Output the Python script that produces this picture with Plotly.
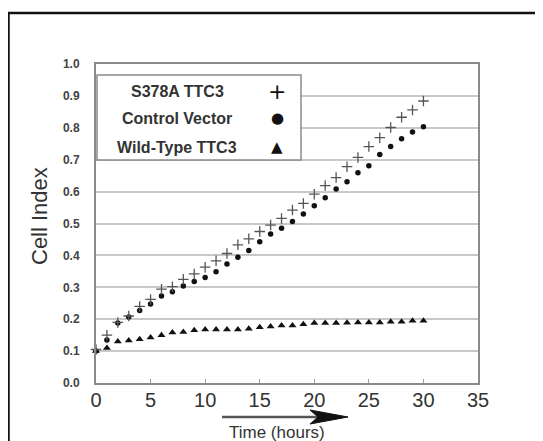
import plotly.graph_objects as go

hours = list(range(31))
s378a = [0.105, 0.15, 0.19, 0.21, 0.24, 0.262, 0.294, 0.302, 0.325, 0.342, 0.363,
         0.383, 0.406, 0.433, 0.452, 0.475, 0.495, 0.516, 0.542, 0.563, 0.592,
         0.619, 0.644, 0.678, 0.707, 0.741, 0.769, 0.801, 0.833, 0.856, 0.884]
control = [0.10, 0.135, 0.188, 0.207, 0.227, 0.248, 0.273, 0.286, 0.304, 0.318, 0.331,
           0.349, 0.373, 0.394, 0.415, 0.443, 0.467, 0.485, 0.506, 0.530, 0.556,
           0.581, 0.608, 0.631, 0.659, 0.681, 0.716, 0.741, 0.766, 0.787, 0.803]
wildtype = [0.10, 0.11, 0.13, 0.133, 0.137, 0.143, 0.15, 0.158, 0.16, 0.165, 0.168,
            0.168, 0.168, 0.168, 0.17, 0.175, 0.177, 0.18, 0.18, 0.184, 0.188,
            0.188, 0.188, 0.189, 0.19, 0.19, 0.19, 0.192, 0.192, 0.195, 0.195]
series_names = ["S378A TTC3", "Control Vector", "Wild-Type TTC3"]
legend_glyphs = ["+", "●", "▲"]
x_ticks = [0, 5, 10, 15, 20, 25, 30, 35]
y_ticks = [0.0, 0.1, 0.2, 0.3, 0.4, 0.5, 0.6, 0.7, 0.8, 0.9, 1.0]

OFF = 8  # page body margin
W, H = 535, 433
L, T = 88, 56
R, B = W - 470, H - 375
PW, PH = W - L - R, H - T - B

def px(xp):  # window pixel -> paper
    return (xp - OFF - L) / PW

def py(yp):
    return (H - B - (yp - OFF)) / PH

fig = go.Figure()
fig.add_trace(go.Scatter(x=hours, y=wildtype, mode="markers", name=series_names[2],
                         marker=dict(symbol="triangle-up", size=7, color="#111"),
                         cliponaxis=False))
fig.add_trace(go.Scatter(x=hours, y=control, mode="markers", name=series_names[1],
                         marker=dict(symbol="circle", size=5.5, color="#111"),
                         cliponaxis=False))
fig.add_trace(go.Scatter(x=hours, y=s378a, mode="markers", name=series_names[0],
                         marker=dict(symbol="cross-thin-open", size=7.5, color="#555",
                                     line=dict(color="#555", width=1.3)),
                         cliponaxis=False))

font = "Liberation Sans, Arial, sans-serif"
fig.update_layout(
    width=W, height=H, margin=dict(l=L, r=R, t=T, b=B),
    paper_bgcolor="white", plot_bgcolor="white", showlegend=False,
    font=dict(family=font, color="#333"),
    xaxis=dict(range=[0, 35], tickvals=x_ticks, ticktext=[str(v) for v in x_ticks],
               ticks="inside", ticklen=4, tickcolor="#999", showgrid=False,
               showline=True, mirror=True, linecolor="#8a8a8a", linewidth=2,
               zeroline=False, tickfont=dict(size=20, color="#333"),
               ticklabelstandoff=-2),
    yaxis=dict(range=[0, 1], tickvals=y_ticks, ticktext=[f"{v:.1f}" for v in y_ticks],
               ticks="", showgrid=True, gridcolor="#c8c8c8", gridwidth=1.5,
               showline=True, mirror=True, linecolor="#8a8a8a", linewidth=2,
               zeroline=False, tickfont=dict(size=12, color="#444", weight="bold"),
               ticklabelstandoff=12),
)

shapes = []
# outer frame
shapes.append(dict(type="rect", xref="paper", yref="paper", x0=px(8.5), x1=px(620),
                   y0=py(520), y1=py(13), line=dict(color="#111", width=2.5),
                   layer="above"))
# legend box
shapes.append(dict(type="rect", xref="paper", yref="paper", x0=px(97), x1=px(301),
                   y0=py(160), y1=py(75), line=dict(color="#8a8a8a", width=1.5),
                   fillcolor="white", layer="above"))
# arrow shaft and head
shapes.append(dict(type="line", xref="paper", yref="paper", x0=px(222), x1=px(318),
                   y0=py(417), y1=py(417), line=dict(color="#555", width=2.5)))
shapes.append(dict(type="path", xref="paper", yref="paper",
                   path=f"M {px(310)} {py(410)} L {px(348)} {py(417)} L {px(310)} {py(424)} "
                        f"L {px(318)} {py(417)} Z",
                   fillcolor="#111", line=dict(color="#111", width=1)))
fig.update_layout(shapes=shapes)

ann = []
rows_y = [91, 118, 147]
for name, yy in zip(series_names, rows_y):
    ann.append(dict(x=px(177), y=py(yy), xref="paper", yref="paper", text=name,
                    showarrow=False, xanchor="center", yanchor="middle",
                    font=dict(size=16, color="#333", family=font, weight="bold")))
gsz = {"+": 22, "●": 15, "▲": 15}
for glyph, yy in zip(legend_glyphs, rows_y):
    ann.append(dict(x=px(277), y=py(yy), xref="paper", yref="paper", text=glyph,
                    showarrow=False, xanchor="center", yanchor="middle",
                    font=dict(size=gsz[glyph], color="#111", family="DejaVu Sans")))
ann.append(dict(x=px(277), y=py(432), xref="paper", yref="paper", text="Time (hours)",
                showarrow=False, xanchor="center", yanchor="middle",
                font=dict(size=17, color="#333", family=font)))
ann.append(dict(x=px(39), y=py(216), xref="paper", yref="paper", text="Cell Index",
                showarrow=False, xanchor="center", yanchor="middle", textangle=-90,
                font=dict(size=22, color="#333", family=font)))
fig.update_layout(annotations=ann)

fig.write_html("out.html")
